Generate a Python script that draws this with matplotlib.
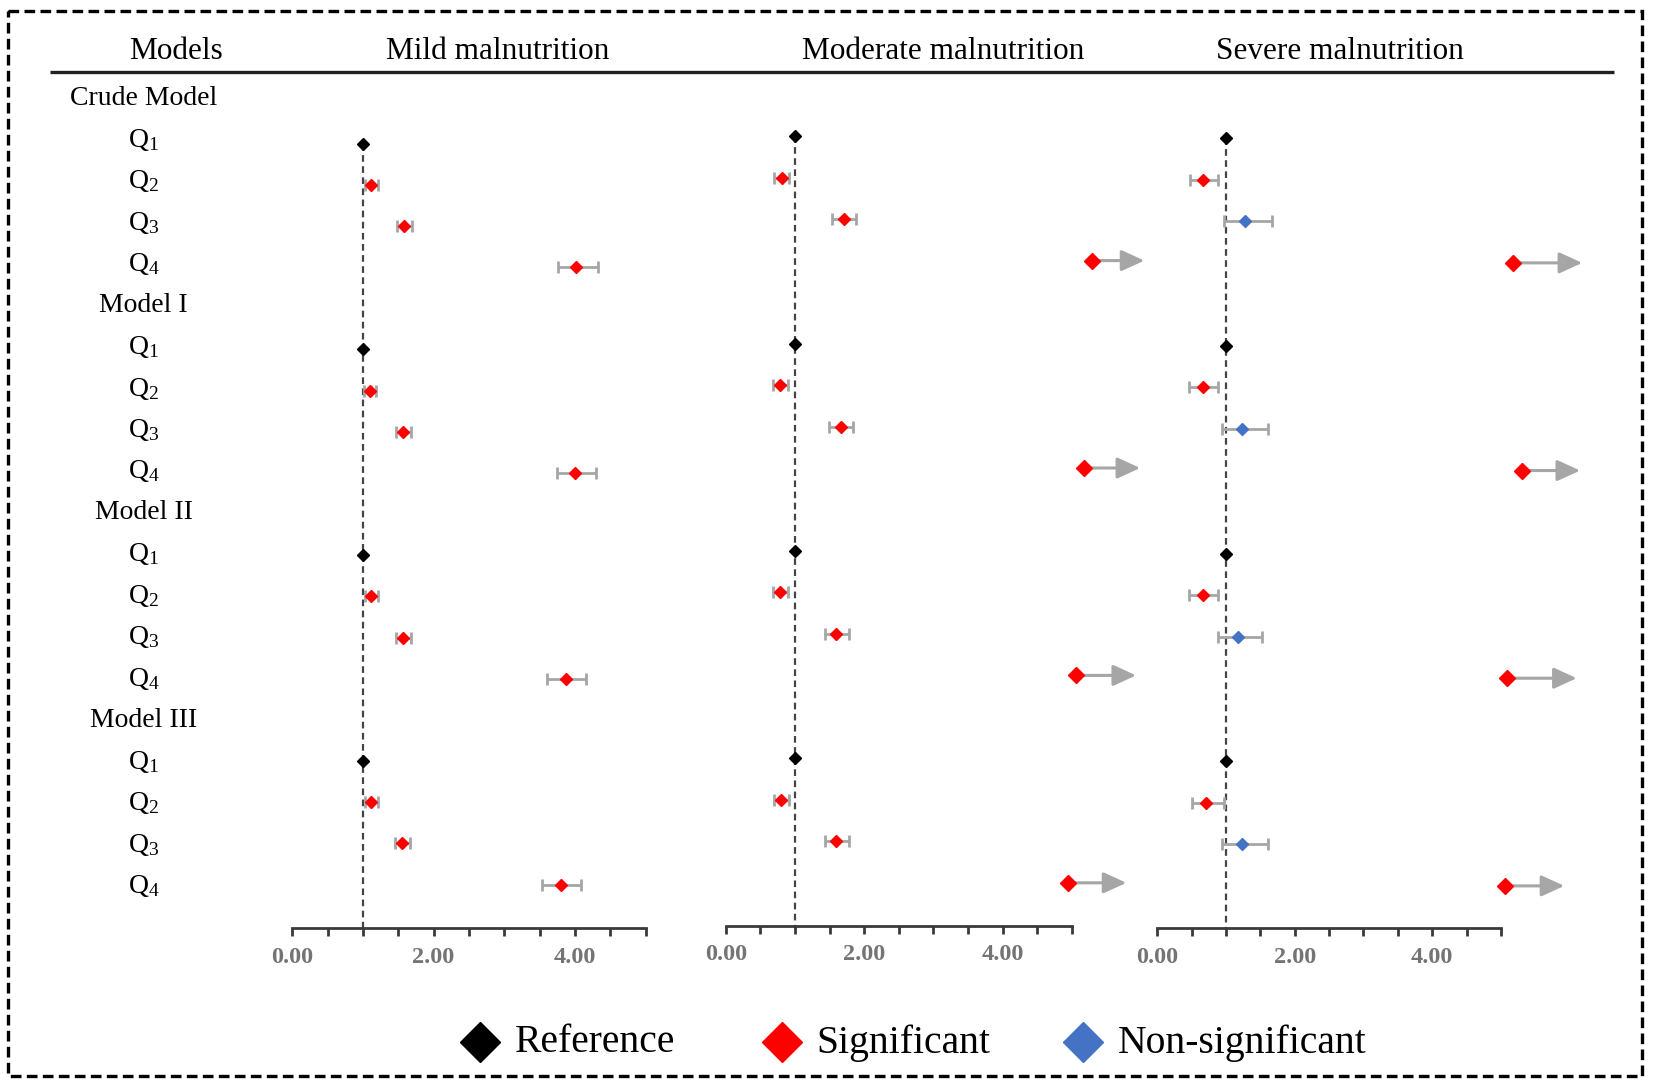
import numpy as np
import matplotlib
matplotlib.use("Agg")
import matplotlib.pyplot as plt
from matplotlib.patches import Rectangle

plt.rcParams['font.family'] = ['Liberation Serif', 'DejaVu Serif']
plt.rcParams['mathtext.default'] = 'regular'

# ---- data (odds ratios and 95% CI) ----
models = ['Crude Model', 'Model I', 'Model II', 'Model III']
quartiles = ['Q$_1$', 'Q$_2$', 'Q$_3$', 'Q$_4$']
panels = ['Mild malnutrition', 'Moderate malnutrition', 'Severe malnutrition']

# one entry per model x quartile (Q1..Q4), Q1 is the reference
mild_or = [1, 1.12, 1.58, 4.01, 1, 1.10, 1.57, 4.00, 1, 1.12, 1.57, 3.88, 1, 1.12, 1.55, 3.81]
mild_lo = [1, 1.03, 1.48, 3.76, 1, 1.02, 1.47, 3.75, 1, 1.03, 1.47, 3.61, 1, 1.03, 1.45, 3.54]
mild_hi = [1, 1.21, 1.70, 4.33, 1, 1.19, 1.68, 4.30, 1, 1.21, 1.68, 4.16, 1, 1.21, 1.66, 4.09]
mild_sig = ['ref', 'sig', 'sig', 'sig'] * 4

moderate_or = [1, 0.81, 1.71, 5.29, 1, 0.79, 1.66, 5.18, 1, 0.79, 1.60, 5.06, 1, 0.80, 1.60, 4.94]
moderate_lo = [1, 0.70, 1.54, np.nan, 1, 0.69, 1.49, np.nan, 1, 0.69, 1.43, np.nan, 1, 0.70, 1.43, np.nan]
moderate_hi = [1, 0.91, 1.88, 6.05, 1, 0.90, 1.84, 5.99, 1, 0.90, 1.78, 5.93, 1, 0.91, 1.78, 5.79]
moderate_sig = ['ref', 'sig', 'sig', 'sig'] * 4

severe_or = [1, 0.67, 1.27, 5.18, 1, 0.66, 1.24, 5.31, 1, 0.66, 1.17, 5.08, 1, 0.71, 1.24, 5.06]
severe_lo = [1, 0.48, 0.97, np.nan, 1, 0.47, 0.94, np.nan, 1, 0.47, 0.89, np.nan, 1, 0.51, 0.94, np.nan]
severe_hi = [1, 0.89, 1.67, 6.18, 1, 0.88, 1.61, 6.15, 1, 0.88, 1.53, 6.10, 1, 0.97, 1.61, 5.92]
severe_sig = ['ref', 'sig', 'ns', 'sig'] * 4

xticks = [0, 2, 4]
xticklabels = ['0.00', '2.00', '4.00']
legend_labels = ['Reference', 'Significant', 'Non-significant']

colors = {'ref': 'black', 'sig': '#FF0000', 'ns': '#4472C4'}
ci_color = '#A6A6A6'
axis_color = '#3a3a3a'

W, H = 1568.0, 1027.0          # layout units (reference pixels)
row0, row_step = 93.0, 39.3    # y of first row label and spacing

fig = plt.figure(figsize=(16.54, 10.84), dpi=100)

# overlay axes in layout units for headers, labels, border, legend
ov = fig.add_axes([0, 0, 1, 1])
ov.set_xlim(0, W)
ov.set_ylim(H, 0)
ov.axis('off')

ov.add_patch(Rectangle((8, 10), 1549, 1009, fill=False, ec='black', lw=2.4,
                       ls=(0, (3.2, 1.6))))
ov.plot([47, 1530], [68, 68], color='#222222', lw=2.4, solid_capstyle='butt')

ov.text(167, 49, 'Models', fontsize=22.5, ha='center', va='center')
for name, xc in zip(panels, [472, 894, 1270]):
    ov.text(xc, 49, name, fontsize=22.5, ha='center', va='center')

row = 0
for m in models:
    ov.text(136, row0 + row_step * row, m, fontsize=20, ha='center', va='center')
    row += 1
    for q in quartiles:
        ov.text(136, row0 + row_step * row, q, fontsize=20, ha='center', va='center')
        row += 1

# legend
for key, lab, mx in zip(['ref', 'sig', 'ns'], legend_labels, [455, 741, 1027]):
    ov.plot([mx], [987], marker='D', ms=20, color=colors[key], mec=colors[key], ls='none')
    ov.text(mx + 33, 988, lab, fontsize=28.5, ha='left', va='center')

# ---- forest panels ----
panel_data = [
    (mild_or, mild_lo, mild_hi, mild_sig),
    (moderate_or, moderate_lo, moderate_hi, moderate_sig),
    (severe_or, severe_lo, severe_hi, severe_sig),
]
# x of 0.00, px per unit, y of axis line, y of first Q1 row, row spacing
panel_pos = [(277, 67.0, 879, 136, 39.0), (688, 65.6, 877, 129, 39.3),
             (1097, 65.2, 879, 131, 39.35)]
xmin, xmax = -0.3, 6.5
ytop = 70

for (ors, los, his, sigs), (x0, s, yax, yfirst, step) in zip(panel_data, panel_pos):
    left = x0 + xmin * s
    width = (xmax - xmin) * s
    ax = fig.add_axes([left / W, 1 - yax / H, width / W, (yax - ytop) / H])
    ax.patch.set_alpha(0)
    ax.set_xlim(xmin, xmax)
    ax.set_ylim(yax, ytop)   # y in layout units

    for sp in ['left', 'right', 'top']:
        ax.spines[sp].set_visible(False)
    ax.spines['bottom'].set_bounds(0, 5)
    ax.spines['bottom'].set_linewidth(2.0)
    ax.spines['bottom'].set_color(axis_color)
    ax.set_yticks([])
    ax.set_xticks(xticks)
    ax.set_xticklabels(xticklabels)
    ax.set_xticks(np.arange(0, 5.01, 0.5), minor=True)
    ax.tick_params(axis='x', which='both', direction='out', length=5.5, width=2.0,
                   color=axis_color)
    ax.tick_params(axis='x', which='major', pad=8, labelsize=17.5, labelcolor='#747474')
    for t in ax.get_xticklabels():
        t.set_fontweight('bold')

    # reference line at OR = 1
    ax.plot([1, 1], [yfirst, yax], color='#444444', lw=1.6, ls=(0, (3, 2)), zorder=1)

    for i, (o, lo, hi, sg) in enumerate(zip(ors, los, his, sigs)):
        r = (i // 4) * 5 + (i % 4)
        y = yfirst + step * r
        ms = 6.5
        if sg != 'ref':
            if hi > 5:
                ax.annotate('', xy=(hi, y), xytext=(o, y),
                            arrowprops=dict(arrowstyle='-|>,head_length=0.7,head_width=0.32',
                                            color=ci_color, lw=2.2, shrinkA=0, shrinkB=0,
                                            mutation_scale=20), zorder=2)
                ms = 8.5
            else:
                ax.errorbar([o], [y], xerr=[[o - lo], [hi - o]], fmt='none',
                            ecolor=ci_color, elinewidth=2.0, capsize=4.5, capthick=2.0,
                            zorder=2)
        ax.plot([o], [y], marker='D', ms=ms, color=colors[sg], mec=colors[sg],
                ls='none', zorder=3)

fig.savefig('out.png', dpi=100)
